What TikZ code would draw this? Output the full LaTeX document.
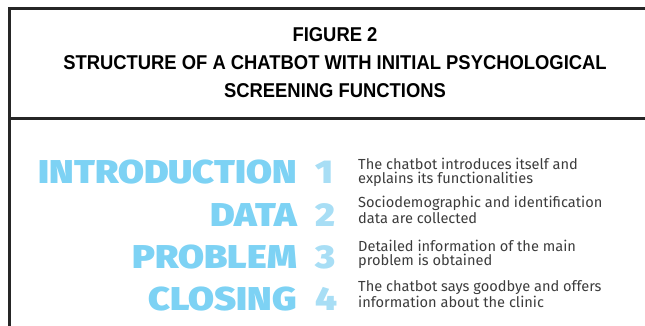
\documentclass[tikz,border=0pt]{standalone}
\usepackage{fontspec}
\setmainfont{Fira Sans}
\newfontfamily\titlefont[FakeStretch=0.92]{Liberation Sans}
\newfontfamily\heavyfont[FakeStretch=1.14]{Fira Sans Black}
\usetikzlibrary{positioning}
\definecolor{stageblue}{HTML}{7DD2F4}
\definecolor{numblue}{HTML}{A8DEF5}
\definecolor{desctext}{HTML}{3C3C3C}

\begin{document}
\begin{tikzpicture}[
  x=1pt, y=-1pt,
  frame/.style={draw=black!85, line width=2.4pt},
  title/.style={font=\titlefont\bfseries\fontsize{20}{28}\selectfont, align=center, inner sep=0pt, anchor=base},
  stage/.style={font=\heavyfont\fontsize{33}{33}\selectfont, text=stageblue, anchor=base east, inner sep=0pt},
  num/.style={font=\heavyfont\fontsize{33}{33}\selectfont, text=numblue, anchor=base west, inner sep=0pt},
  desc/.style={font=\fontsize{14.6}{14}\selectfont, text=desctext, align=left, anchor=base west, inner sep=0pt}
]
\useasboundingbox (0,0) rectangle (645,326);
\clip (0,0) rectangle (645,326);
\draw[frame] (9.5,8.5) rectangle (660,340);
\draw[frame] (9.5,118.5) -- (660,118.5);

\node[title] (ttl) at (335,98) {FIGURE 2\\STRUCTURE OF A CHATBOT WITH INITIAL PSYCHOLOGICAL\\SCREENING FUNCTIONS};

\foreach \k/\stagename/\ya/\yb/\lineA/\lineB in {
  1/INTRODUCTION/183/183/{The chatbot introduces itself and}/{explains its functionalities},
  2/DATA/226/223/{Sociodemographic and identification}/{data are collected},
  3/PROBLEM/268/265/{Detailed information of the main}/{problem is obtained},
  4/CLOSING/310/307/{The chatbot says goodbye and offers}/{information about the clinic}}
{
  \node[stage] (stage\k) at (297,\ya) {\stagename};
  \node[num] (num\k) at (315,\ya) {\k};
  \node[desc] (desc\k) at (358,\yb) {\lineA\\\lineB};
}
\end{tikzpicture}
\end{document}
